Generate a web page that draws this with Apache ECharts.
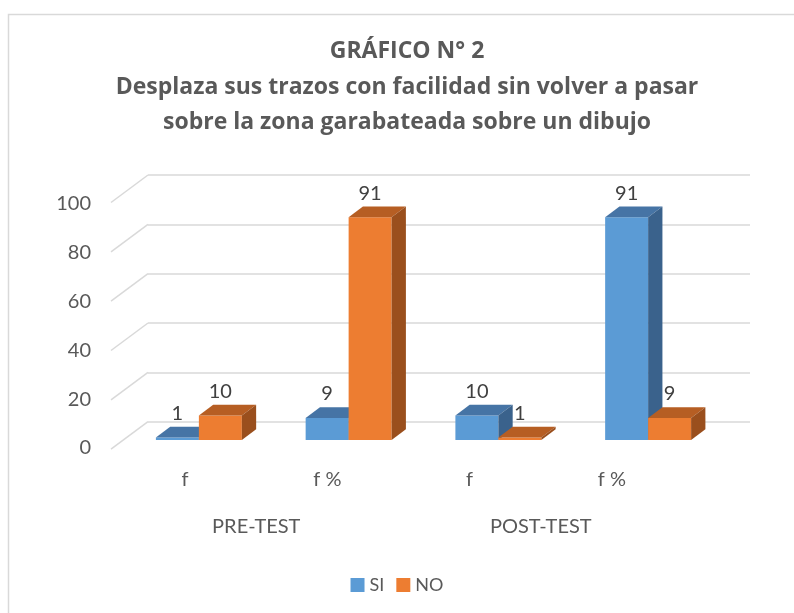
<!DOCTYPE html>
<html>
<head>
<meta charset="utf-8">
<script src="https://cdn.jsdelivr.net/npm/echarts@6/dist/echarts.min.js"></script>
<style>html,body{margin:0;padding:0;background:#fff;}#chart{width:794px;height:613px;}</style>
</head>
<body>
<div id="chart"></div>
<script>
const categories = ['f', 'f %', 'f', 'f %'];
const groups = ['PRE-TEST', 'POST-TEST'];
const siValues = [1, 9, 10, 91];
const noValues = [10, 91, 1, 9];
const yTicks = [0, 20, 40, 60, 80, 100];
const seriesNames = ['SI', 'NO'];

const FONT = 'Lato';
const TITLE_FONT = 'Open Sans';
const colors = {
  SI: { front: '#5B9BD5', top: '#4674A5', side: '#3A628C' },
  NO: { front: '#ED7D31', top: '#B65E23', side: '#9A4F1D' }
};
const DX = 14.3, DY = -10.7;

function barRenderer(name, side) {
  return function (params, api) {
    const idx = api.value(0);
    const val = api.value(1);
    const base = api.coord([idx, 0]);
    const top = api.coord([idx, val]);
    const band = api.size([1, 0])[0];
    const bw = band * 0.287;
    const x0 = side === 'left' ? base[0] - bw : base[0];
    const x1 = x0 + bw;
    const yb = base[1], yt = top[1];
    const c = colors[name];
    return {
      type: 'group',
      children: [
        { type: 'polygon', shape: { points: [[x0, yb], [x1, yb], [x1, yt], [x0, yt]] }, style: { fill: c.front } },
        { type: 'polygon', shape: { points: [[x0, yt], [x1, yt], [x1 + DX, yt + DY], [x0 + DX, yt + DY]] }, style: { fill: c.top } },
        { type: 'polygon', shape: { points: [[x1, yb], [x1 + DX, yb + DY], [x1 + DX, yt + DY], [x1, yt]] }, style: { fill: c.side } },
        { type: 'text', style: { text: String(val), x: x0 + bw / 2, y: yt - 24, align: 'center', verticalAlign: 'middle', fill: '#404040', font: '20px ' + FONT } }
      ]
    };
  };
}

const chart = echarts.init(document.getElementById('chart'), null, { renderer: 'canvas' });
chart.setOption({
  animation: false,
  backgroundColor: '#fff',
  graphic: [
    { type: 'rect', shape: { x: 8.5, y: 14.5, width: 800, height: 620 }, style: { fill: 'none', stroke: '#d9d9d9', lineWidth: 1.5 }, silent: true, z: -10 }
  ],
  title: {
    text: 'GRÁFICO N° 2\nDesplaza sus trazos con facilidad sin volver a pasar\nsobre la zona garabateada sobre un dibujo',
    left: 402,
    textAlign: 'center',
    top: 29,
    textStyle: { fontFamily: TITLE_FONT, fontWeight: 'bold', fontSize: 23, color: '#595959', lineHeight: 35.5 }
  },
  legend: {
    data: seriesNames,
    left: 'center',
    top: 571,
    icon: 'rect',
    itemWidth: 14,
    itemHeight: 14,
    itemGap: 12,
    textStyle: { fontFamily: FONT, fontSize: 18, color: '#595959' }
  },
  grid: [
    { left: 148, top: 175, width: 602, height: 246.7 },
    { left: 114, top: 203.3, width: 569, height: 244.7 },
    { left: 124, top: 195.3, width: 599, height: 244.7 }
  ],
  xAxis: [
    { type: 'category', gridIndex: 0, data: categories, show: false },
    { type: 'category', gridIndex: 1, data: categories, axisLine: { show: false }, axisTick: { show: false },
      axisLabel: { fontFamily: FONT, fontSize: 20, color: '#595959', margin: 22 } },
    { type: 'category', gridIndex: 1, data: groups, position: 'bottom', offset: 47, axisLine: { show: false }, axisTick: { show: false },
      axisLabel: { fontFamily: FONT, fontSize: 20, color: '#595959', margin: 22 } },
    { type: 'category', gridIndex: 2, data: categories, show: false }
  ],
  yAxis: [
    { type: 'value', gridIndex: 0, min: 0, max: 100, interval: 20, axisLine: { show: false }, axisTick: { show: false }, axisLabel: { show: false },
      splitLine: { show: true, lineStyle: { color: '#d9d9d9', width: 1.5 } } },
    { type: 'value', gridIndex: 1, min: 0, max: 100, interval: 20, axisLine: { show: false }, axisTick: { show: false }, splitLine: { show: false },
      axisLabel: { fontFamily: FONT, fontSize: 20, color: '#595959', margin: 23 } },
    { type: 'value', gridIndex: 2, min: 0, max: 100, interval: 20, show: false, splitLine: { show: false } }
  ],
  series: [
    {
      type: 'custom', name: 'grid-depth', xAxisIndex: 0, yAxisIndex: 0, silent: true, z: 1,
      data: yTicks.map(v => [0, v]),
      renderItem: function (params, api) {
        const p = api.coord([0, api.value(1)]);
        const x0 = p[0] - api.size([1, 0])[0] / 2;
        return { type: 'line', shape: { x1: x0, y1: p[1], x2: x0 - 37, y2: p[1] + 27.5 }, style: { stroke: '#d9d9d9', lineWidth: 1.5 } };
      }
    },
    {
      type: 'custom', name: 'SI', xAxisIndex: 3, yAxisIndex: 2, z: 3,
      itemStyle: { color: colors.SI.front },
      data: siValues.map((v, i) => [i, v]),
      renderItem: barRenderer('SI', 'left')
    },
    {
      type: 'custom', name: 'NO', xAxisIndex: 3, yAxisIndex: 2, z: 3,
      itemStyle: { color: colors.NO.front },
      data: noValues.map((v, i) => [i, v]),
      renderItem: barRenderer('NO', 'right')
    }
  ]
});
</script>
</body>
</html>
